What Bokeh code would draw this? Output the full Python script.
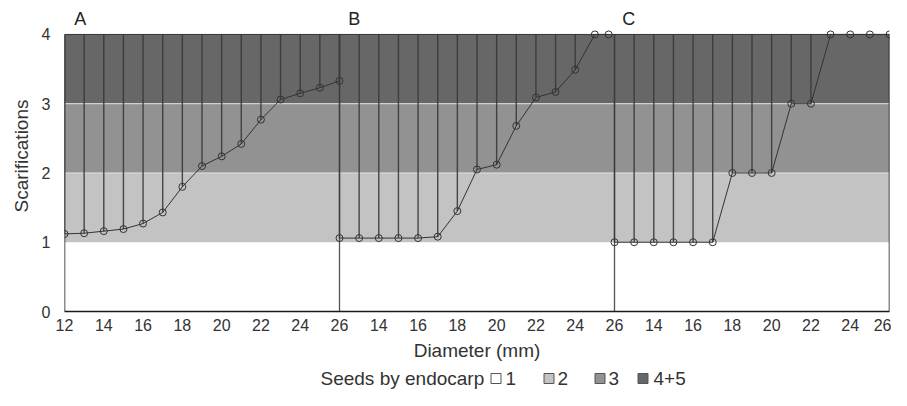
from bokeh.plotting import figure
from bokeh.models import Range1d, FixedTicker
from bokeh.layouts import column
from bokeh.embed import file_html
from bokeh.resources import INLINE
from bokeh.core.properties import value

# ---------------- data ----------------
panel_names = ["A", "B", "C"]

diam_A = [12, 13, 14, 15, 16, 17, 18, 19, 20, 21, 22, 23, 24, 25, 26]
scar_A = [1.12, 1.13, 1.16, 1.19, 1.27, 1.43, 1.80, 2.10, 2.24, 2.42, 2.77, 3.06, 3.15, 3.23, 3.33]

diam_B = [12, 13, 14, 15, 16, 17, 18, 19, 20, 21, 22, 23, 24, 25, 25.7]
scar_B = [1.06, 1.06, 1.06, 1.06, 1.06, 1.08, 1.45, 2.05, 2.12, 2.68, 3.09, 3.17, 3.49, 4.0, 4.0]

diam_C = [12, 13, 14, 15, 16, 17, 18, 19, 20, 21, 22, 23, 24, 25, 26]
scar_C = [1, 1, 1, 1, 1, 1, 2, 2, 2, 3, 3, 4, 4, 4, 4]

band_names = ["1", "2", "3", "4+5"]
band_bottom = [0, 1, 2, 3]
band_top = [1, 2, 3, 4]
band_colors = ["#ffffff", "#c3c3c3", "#929292", "#676767"]

tick_diams = [12, 14, 16, 18, 20, 22, 24, 26]
y_ticks = [0, 1, 2, 3, 4]

x_title = "Diameter (mm)"
y_title = "Scarifications"
legend_title = "Seeds by endocarp"

# ---------------- helpers ----------------
D_MIN, D_MAX = 12, 26
SPAN = D_MAX - D_MIN
N_PANELS = len(panel_names)
X_END = SPAN * N_PANELS
Y_MAX = band_top[-1]
Y_TOP = Y_MAX + 0.49          # head room above the plot for the panel letters
FONT = "Liberation Sans"
TXT = "#333333"
W = 891
FRAME_L, FRAME_R = 64, W - 2


def to_x(panel, d):
    return panel * SPAN + (d - D_MIN)


series = [(diam_A, scar_A), (diam_B, scar_B), (diam_C, scar_C)]

# ticks: panel boundaries share one tick, labelled with the left panel's end
tick_pos = []
tick_lab = {}
for i in range(N_PANELS):
    for d in tick_diams:
        pos = to_x(i, d)
        if pos not in tick_lab:
            tick_pos.append(pos)
            tick_lab[pos] = str(d)

# ---------------- main figure ----------------
MAIN_H = 366
p = figure(width=W, height=MAIN_H, x_range=Range1d(0, X_END), y_range=Range1d(0, Y_TOP),
           output_backend="svg", toolbar_location=None,
           min_border_left=FRAME_L, min_border_right=W - FRAME_R, min_border_top=0,
           min_border_bottom=MAIN_H - 311)
p.grid.visible = False
p.background_fill_color = "white"
p.border_fill_color = "white"
p.outline_line_color = None

# bands
nb = len(band_bottom)
p.quad(left=[0] * nb, right=[X_END] * nb, bottom=band_bottom, top=band_top,
       fill_color=band_colors, line_color=None)
# thin light boundaries between grey bands
p.segment(x0=[0] * (nb - 2), x1=[X_END] * (nb - 2), y0=band_bottom[2:], y1=band_bottom[2:],
          line_color="#e2e2e2", line_width=1)

# panel separators
sep = [to_x(i, D_MIN) for i in range(1, N_PANELS)]
p.segment(x0=sep, x1=sep, y0=[0] * len(sep), y1=[Y_MAX] * len(sep),
          line_color="#555555", line_width=1.3)

for i, (dd, ss) in enumerate(series):
    xs = [to_x(i, d) for d in dd]
    vx = [x for x, s in zip(xs, ss) if s < Y_MAX]
    vy = [s for s in ss if s < Y_MAX]
    p.segment(x0=vx, x1=vx, y0=vy, y1=[Y_MAX] * len(vy),
              line_color="#383838", line_width=1.4, line_alpha=0.9)
    p.line(xs, ss, line_color="#333333", line_width=1)
    p.scatter(xs, ss, size=7, marker="circle", fill_alpha=0,
              line_color="#333333", line_width=1)

# frame (left, top, right)
p.segment(x0=[0, 0, X_END], x1=[0, X_END, X_END], y0=[0, Y_MAX, 0], y1=[Y_MAX, Y_MAX, Y_MAX],
          line_color=["#1a1a1a", "#333333", "#1a1a1a"], line_width=[1.5, 1, 1.5])

# panel letters
letter_off = [0.5, 0.45, 0.4]
p.text(x=[i * SPAN + o for i, o in enumerate(letter_off)], y=[Y_MAX + 0.23] * N_PANELS,
       text=panel_names, text_font=value(FONT), text_font_size=value("18px"),
       text_color="#222222", text_baseline="middle", text_align="left")

# axes
p.xaxis.ticker = FixedTicker(ticks=tick_pos)
p.xaxis.major_label_overrides = tick_lab
p.yaxis.ticker = FixedTicker(ticks=y_ticks)
for ax in (p.xaxis, p.yaxis):
    ax.major_tick_line_color = None
    ax.minor_tick_line_color = None
    ax.major_tick_out = 0
    ax.major_tick_in = 0
    ax.major_label_text_font = FONT
    ax.major_label_text_font_size = "16px"
    ax.major_label_text_color = TXT
    ax.axis_label_text_font = FONT
    ax.axis_label_text_font_size = "19px"
    ax.axis_label_text_font_style = "normal"
    ax.axis_label_text_color = TXT
p.xaxis.axis_line_color = "#1a1a1a"
p.xaxis.axis_line_width = 1.5
p.yaxis.axis_line_color = None
p.xaxis.axis_label = x_title
p.yaxis.axis_label = y_title
p.xaxis.major_label_standoff = 7
p.xaxis.axis_label_standoff = 6
p.yaxis.major_label_standoff = 14
p.yaxis.axis_label_standoff = 7

# ---------------- legend strip ----------------
# the column aligns this strip's frame with the main frame, so map it 1:1 to page pixels
LH = 390 - MAIN_H
lg = figure(width=W, height=LH, x_range=Range1d(FRAME_L, FRAME_R), y_range=Range1d(0, LH),
            output_backend="svg", toolbar_location=None,
            x_axis_location=None, y_axis_location=None,
            min_border=0, min_border_left=FRAME_L, min_border_right=W - FRAME_R,
            min_border_top=0, min_border_bottom=0)
lg.grid.visible = False
lg.outline_line_color = None
lg.background_fill_color = "white"
mid = LH - 12
lg.text(x=[320], y=[mid], text=[legend_title], text_font=value(FONT),
        text_font_size=value("19px"), text_color=TXT, text_baseline="middle")
sq_x = [495.5, 548.5, 599.5, 642.5]
lab_x = [505, 557, 608, 653]
lg.rect(x=sq_x, y=[mid] * 4, width=10, height=10, fill_color=band_colors,
        line_color="#555555", line_width=1)
lg.text(x=lab_x, y=[mid] * 4, text=band_names, text_font=value(FONT),
        text_font_size=value("19px"), text_color=TXT, text_baseline="middle")

layout = column(p, lg, spacing=0)
open("out.html", "w").write(file_html(layout, INLINE))
